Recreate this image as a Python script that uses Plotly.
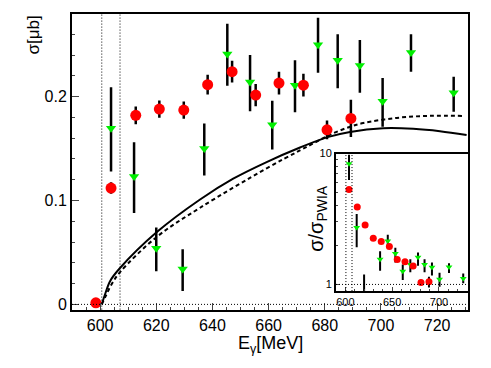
import plotly.graph_objects as go

# main panel: sigma [mub] vs photon energy [MeV]
red_E = [598.5, 603.9, 612.7, 621.1, 629.8, 638.3, 647.0, 655.4, 663.7, 672.4, 680.8, 689.3]
red_sig = [0.0015, 0.112, 0.182, 0.188, 0.187, 0.2115, 0.224, 0.2015, 0.213, 0.211, 0.168, 0.179]
red_err = [0.001, 0.0055, 0.0085, 0.0083, 0.0083, 0.0096, 0.0105, 0.0107, 0.011, 0.011, 0.009, 0.018]

green_E = [603.9, 612.1, 620.0, 629.4, 637.1, 645.3, 653.4, 661.3, 669.4, 677.6, 684.6, 692.5, 700.6, 710.7, 725.9]
green_sig = [0.1695, 0.123, 0.054, 0.034, 0.150, 0.241, 0.214, 0.173, 0.211, 0.250, 0.235, 0.230, 0.1955, 0.2425, 0.2037]
green_up = [0.0395, 0.033, 0.020, 0.019, 0.024, 0.029, 0.026, 0.023, 0.024, 0.026, 0.025, 0.0244, 0.0225, 0.0175, 0.0153]
green_dn = [0.0415, 0.035, 0.022, 0.021, 0.026, 0.0305, 0.028, 0.024, 0.026, 0.027, 0.027, 0.0263, 0.0245, 0.0185, 0.0182]

# model curves
solid_E = [600.6, 601.8, 603.6, 607.1, 620.2, 635.6, 647.4, 659.3, 671.2, 681.0, 689.0, 700.8, 711.5, 721.0, 730.5]
solid_sig = [0.0, 0.010, 0.0226, 0.035, 0.0696, 0.101, 0.121, 0.137, 0.151, 0.161, 0.166, 0.1695, 0.169, 0.1667, 0.163]
dash_E = [600.6, 602.0, 604.0, 607.1, 620.2, 635.6, 659.3, 671.0, 677.0, 682.0, 688.0, 693.7, 705.6, 717.4, 729.3]
dash_sig = [0.0, 0.008, 0.019, 0.031, 0.065, 0.093, 0.131, 0.148, 0.1565, 0.1635, 0.170, 0.1745, 0.1795, 0.1815, 0.1814]

thresholds = [600.6, 607.1]

# inset: sigma / sigma_PWIA
in_red_E = red_E[1:]
in_red_r = [5.32, 3.91, 2.85, 2.25, 2.13, 1.95, 1.55, 1.49, 1.38, 1.035, 1.046]
in_red_err = [0.2, 0.15, 0.1, 0.08, 0.08, 0.07, 0.06, 0.06, 0.06, 0.05, 0.1]

in_green_E = green_E
in_green_r = [8.36, 2.72, 0.78, 0.38, 1.56, 2.15, 1.72, 1.26, 1.42, 1.61, 1.42, 1.35, 1.095, 1.36, 1.11]
in_green_hi = [9.77, 3.45, 1.19, 0.59, 1.79, 2.40, 1.91, 1.42, 1.56, 1.75, 1.56, 1.47, 1.23, 1.45, 1.21]
in_green_lo = [6.28, 1.92, 0.46, 0.15, 1.27, 1.91, 1.47, 1.08, 1.24, 1.39, 1.24, 1.17, 0.96, 1.22, 1.02]

RED = "#ff0000"
GREEN = "#00ee00"
FONT = "Liberation Sans"

fig = go.Figure()

fig.add_trace(go.Scatter(x=solid_E, y=solid_sig, mode="lines", line=dict(color="black", width=2, shape="spline"),
                         xaxis="x", yaxis="y"))
fig.add_trace(go.Scatter(x=dash_E, y=dash_sig, mode="lines",
                         line=dict(color="black", width=2, dash="4px,3px", shape="spline"), xaxis="x", yaxis="y"))

fig.add_trace(go.Scatter(x=green_E, y=green_sig, mode="markers",
                         marker=dict(symbol="triangle-down", size=9, color=GREEN),
                         error_y=dict(type="data", array=green_up, arrayminus=green_dn, color="black", thickness=2.5, width=0),
                         xaxis="x", yaxis="y"))
fig.add_trace(go.Scatter(x=red_E, y=red_sig, mode="markers",
                         marker=dict(symbol="circle", size=11, color=RED),
                         error_y=dict(type="data", array=red_err, color="black", thickness=2.5, width=0),
                         xaxis="x", yaxis="y"))

# inset traces
fig.add_trace(go.Scatter(x=in_green_E, y=in_green_r, mode="markers",
                         marker=dict(symbol="triangle-down", size=6, color=GREEN),
                         error_y=dict(type="data",
                                      array=[h - r for h, r in zip(in_green_hi, in_green_r)],
                                      arrayminus=[r - l for l, r in zip(in_green_lo, in_green_r)],
                                      color="black", thickness=2, width=0),
                         xaxis="x2", yaxis="y2"))
fig.add_trace(go.Scatter(x=in_red_E, y=in_red_r, mode="markers",
                         marker=dict(symbol="circle", size=7, color=RED),
                         error_y=dict(type="data", array=in_red_err, color="black", thickness=2, width=0),
                         xaxis="x2", yaxis="y2"))

DOT = dict(color="black", width=1, dash="1px,2px")
shapes = []
# dotted zero line and threshold lines
shapes.append(dict(type="line", xref="x", yref="y", x0=590, x1=731, y0=0, y1=0, line=DOT))
for t in thresholds:
    shapes.append(dict(type="line", xref="x", yref="y domain", x0=t, x1=t, y0=0, y1=1, line=DOT))
    shapes.append(dict(type="line", xref="x2", yref="y2 domain", x0=t, x1=t, y0=0, y1=1, line=DOT))
shapes.append(dict(type="line", xref="x2", yref="y2", x0=590, x1=731, y0=1, y1=1, line=DOT))

W, H = 491, 368
OFF = 8  # page body margin


def px_x(p):
    return (p - OFF) / W


def px_y(p):
    return 1 - (p - OFF) / H


main_dom_x = [px_x(72), px_x(468)]
main_dom_y = [px_y(311), 1.0]
ins_dom_x = [px_x(336), px_x(468)]
ins_dom_y = [px_y(292), px_y(151)]

fig.update_layout(
    width=W, height=H,
    margin=dict(l=0, r=0, t=0, b=0),
    paper_bgcolor="white", plot_bgcolor="white",
    showlegend=False,
    font=dict(family=FONT, size=16, color="black"),
    shapes=shapes,
    xaxis=dict(domain=main_dom_x, range=[590, 731], tickvals=[600, 620, 640, 660, 680, 700, 720],
               ticks="inside", ticklen=7, tickwidth=1, showline=True, linewidth=2, linecolor="black",
               mirror=True, showgrid=False, zeroline=False, anchor="y",
               minor=dict(ticks="inside", dtick=5, ticklen=3, tickwidth=1),
               tickfont=dict(size=16)),
    yaxis=dict(domain=main_dom_y, range=[-0.005, 0.2795], tickvals=[0, 0.1, 0.2], ticktext=["0", "0.1", "0.2"],
               ticks="inside", ticklen=7, tickwidth=1, showline=True, linewidth=2, linecolor="black",
               mirror=True, showgrid=False, zeroline=False, anchor="x",
               minor=dict(ticks="inside", dtick=0.02, ticklen=3, tickwidth=1),
               tickfont=dict(size=16)),
    xaxis2=dict(domain=ins_dom_x, range=[590, 731], tickvals=[600, 650, 700],
                ticks="inside", ticklen=4, tickwidth=1, showline=True, linewidth=2, linecolor="black",
                mirror=True, showgrid=False, zeroline=False, anchor="y2",
                minor=dict(ticks="inside", dtick=10, ticklen=2, tickwidth=1),
                tickfont=dict(size=11)),
    yaxis2=dict(domain=ins_dom_y, type="log", range=[-0.0506, 1.0], tickvals=[1, 10], ticktext=["1", "10"],
                ticks="inside", ticklen=4, tickwidth=1, showline=True, linewidth=2, linecolor="black",
                mirror=True, showgrid=False, zeroline=False, anchor="x2",
                minor=dict(ticks="inside", tickvals=[2, 3, 4, 5, 6, 7, 8, 9], ticklen=2, tickwidth=1),
                tickfont=dict(size=11)),
    annotations=[
        dict(text="σ[μb]", textangle=-90, xref="paper", yref="paper", x=px_x(33), y=1.0,
             xanchor="center", yanchor="top", showarrow=False, font=dict(size=17)),
        dict(text="E<sub>γ</sub>[MeV]", xref="paper", yref="paper", x=px_x(270), y=px_y(347),
             xanchor="center", yanchor="middle", showarrow=False, font=dict(size=18)),
        dict(text="σ/σ<sub>PWIA</sub>", textangle=-90, xref="paper", yref="paper", x=px_x(318), y=px_y(218),
             xanchor="center", yanchor="middle", showarrow=False, font=dict(size=20)),
    ],
)

fig.write_html("out.html")
